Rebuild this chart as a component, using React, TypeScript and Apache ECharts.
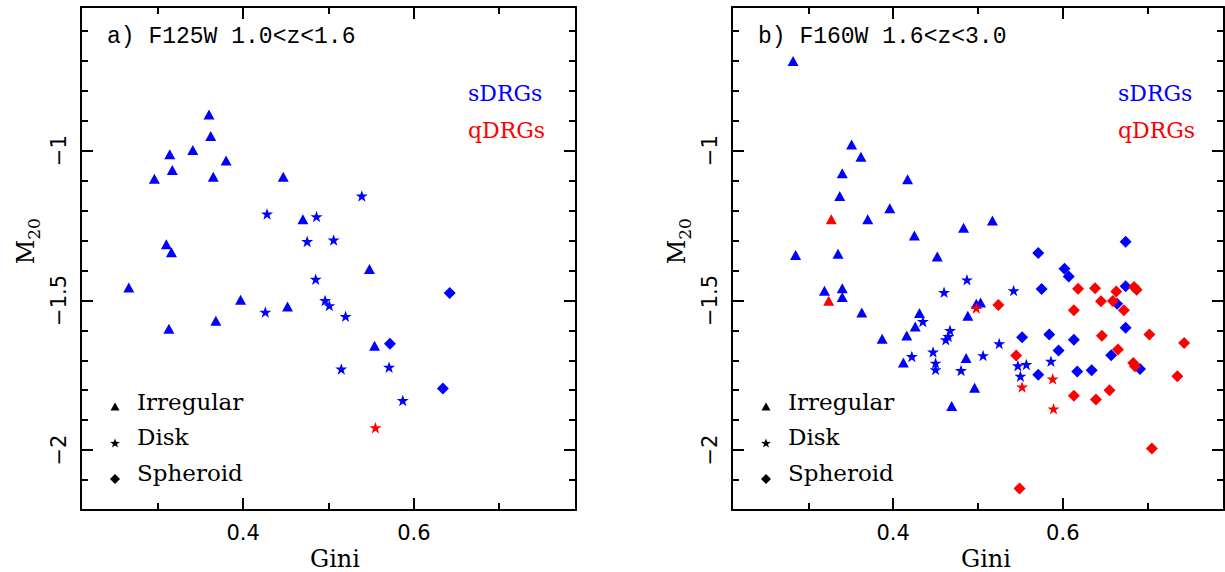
import React, { useEffect, useRef } from "react";
import * as echarts from "echarts";

// ---- axis ranges and ticks ----
const X_MIN = 0.21;
const X_MAX = 0.79;
const Y_MIN = -2.2;
const Y_MAX = -0.52;
const xMajor = [0.4, 0.6];
const xMinor = [0.3, 0.5, 0.7];
const yMajor = [-2, -1.5, -1];
const yMinor = [-2.1, -1.9, -1.8, -1.7, -1.6, -1.4, -1.3, -1.2, -1.1, -0.9, -0.8, -0.7, -0.6];

// ---- panel a) F125W 1.0<z<1.6 ----
const aBlueIrregular = [
  [0.360, -0.879], [0.362, -0.951], [0.341, -0.998], [0.314, -1.012], [0.380, -1.033],
  [0.317, -1.064], [0.296, -1.094], [0.365, -1.087], [0.447, -1.087], [0.310, -1.312],
  [0.316, -1.339], [0.266, -1.457], [0.313, -1.595], [0.368, -1.568], [0.397, -1.498],
  [0.452, -1.520], [0.470, -1.229], [0.548, -1.395], [0.554, -1.651],
];
const aBlueDisk = [
  [0.428, -1.211], [0.426, -1.539], [0.539, -1.151], [0.486, -1.220], [0.475, -1.303],
  [0.506, -1.298], [0.485, -1.429], [0.496, -1.500], [0.501, -1.517], [0.520, -1.553],
  [0.515, -1.729], [0.571, -1.723], [0.587, -1.834],
];
const aRedDisk = [[0.555, -1.925]];
const aBlueSpheroid = [[0.642, -1.475], [0.572, -1.645], [0.634, -1.794]];

// ---- panel b) F160W 1.6<z<3.0 ----
const bBlueIrregular = [
  [0.282, -0.700], [0.351, -0.979], [0.362, -1.020], [0.340, -1.075], [0.417, -1.095],
  [0.337, -1.151], [0.396, -1.192], [0.370, -1.229], [0.425, -1.283], [0.285, -1.348],
  [0.335, -1.344], [0.452, -1.353], [0.319, -1.468], [0.340, -1.459], [0.340, -1.489],
  [0.363, -1.540], [0.431, -1.542], [0.426, -1.587], [0.387, -1.628], [0.416, -1.617],
  [0.412, -1.707], [0.483, -1.257], [0.517, -1.233], [0.498, -1.511], [0.503, -1.507],
  [0.488, -1.551], [0.486, -1.692], [0.496, -1.792], [0.469, -1.853],
];
const bRedIrregular = [[0.327, -1.229], [0.324, -1.501]];
const bBlueDisk = [
  [0.435, -1.570], [0.422, -1.687], [0.447, -1.672], [0.450, -1.709], [0.450, -1.731],
  [0.487, -1.431], [0.460, -1.473], [0.542, -1.467], [0.467, -1.600], [0.465, -1.620],
  [0.462, -1.631], [0.525, -1.644], [0.506, -1.684], [0.480, -1.734], [0.547, -1.718],
  [0.557, -1.714], [0.586, -1.703], [0.550, -1.753],
];
const bRedDisk = [[0.498, -1.525], [0.588, -1.762], [0.552, -1.789], [0.589, -1.862]];
const bBlueSpheroid = [
  [0.571, -1.342], [0.674, -1.304], [0.602, -1.394], [0.607, -1.420], [0.575, -1.462],
  [0.674, -1.453], [0.664, -1.511], [0.674, -1.591], [0.552, -1.623], [0.584, -1.614],
  [0.613, -1.631], [0.595, -1.667], [0.657, -1.683], [0.691, -1.729], [0.617, -1.737],
  [0.634, -1.733], [0.571, -1.748],
];
const bRedSpheroid = [
  [0.618, -1.461], [0.638, -1.459], [0.663, -1.470], [0.684, -1.455], [0.687, -1.464],
  [0.645, -1.503], [0.659, -1.502], [0.672, -1.533], [0.613, -1.533], [0.524, -1.515],
  [0.646, -1.618], [0.702, -1.614], [0.743, -1.642], [0.665, -1.664], [0.545, -1.684],
  [0.683, -1.709], [0.685, -1.720], [0.735, -1.753], [0.613, -1.818], [0.639, -1.831],
  [0.655, -1.800], [0.705, -1.995], [0.549, -2.128],
];

const panelTitles = ["a) F125W 1.0<z<1.6", "b) F160W 1.6<z<3.0"];
const groupLabels = ["sDRGs", "qDRGs"];
const typeLabels = ["Irregular", "Disk", "Spheroid"];

const BLUE = "#0000ff";
const RED = "#ff0000";
const STAR =
  "path://M50,0 L61.8,34.5 L97.6,34.5 L68.7,55.9 L79.4,90.5 L50,69.1 L20.6,90.5 L31.3,55.9 L2.4,34.5 L38.2,34.5 Z";

function starPoints(cx: number, cy: number, r: number) {
  const pts: number[][] = [];
  for (let i = 0; i < 10; i++) {
    const rr = i % 2 === 0 ? r : r * 0.42;
    const a = -Math.PI / 2 + (i * Math.PI) / 5;
    pts.push([cx + rr * Math.cos(a), cy + rr * Math.sin(a)]);
  }
  return pts;
}

export default function App() {
  const ref = useRef<HTMLDivElement>(null);
  useEffect(() => {
    if (!ref.current) return;
    const chart = echarts.init(ref.current, undefined, { renderer: "svg" });

    const grids = [
      { left: 81, top: 7, width: 495, height: 503 },
      { left: 732, top: 7, width: 492, height: 503 },
    ];
    const lineStyle = { color: "#000", width: 2 };
    const tickFont = { fontSize: 21, fontFamily: "DejaVu Sans", color: "#000" };

    const xAxes: any[] = [];
    const yAxes: any[] = [];
    grids.forEach((_, g) => {
      const xb = {
        type: "value", gridIndex: g, min: X_MIN, max: X_MAX,
        splitLine: { show: false },
        axisLine: { show: true, onZero: false, lineStyle },
      };
      xAxes.push(
        { ...xb, position: "bottom",
          axisTick: { show: true, inside: true, length: 12, customValues: xMajor, lineStyle },
          axisLabel: { show: true, customValues: xMajor, margin: 12, ...tickFont,
            formatter: (v: number) => v.toFixed(1) } },
        { ...xb, position: "bottom", axisLine: { show: false },
          axisTick: { show: true, inside: true, length: 7, customValues: xMinor, lineStyle },
          axisLabel: { show: false } },
        { ...xb, position: "top",
          axisTick: { show: true, inside: true, length: 12, customValues: xMajor, lineStyle },
          axisLabel: { show: false } },
        { ...xb, position: "top", axisLine: { show: false },
          axisTick: { show: true, inside: true, length: 7, customValues: xMinor, lineStyle },
          axisLabel: { show: false } },
      );
      const yb = {
        type: "value", gridIndex: g, min: Y_MIN, max: Y_MAX,
        splitLine: { show: false },
        axisLine: { show: true, onZero: false, lineStyle },
      };
      yAxes.push(
        { ...yb, position: "left",
          axisTick: { show: true, inside: true, length: 12, customValues: yMajor, lineStyle },
          axisLabel: { show: true, customValues: yMajor, margin: 12, rotate: 90, ...tickFont,
            formatter: (v: number) => (v < 0 ? "\u2212" : "") + String(Math.abs(v)) } },
        { ...yb, position: "left", axisLine: { show: false },
          axisTick: { show: true, inside: true, length: 7, customValues: yMinor, lineStyle },
          axisLabel: { show: false } },
        { ...yb, position: "right",
          axisTick: { show: true, inside: true, length: 12, customValues: yMajor, lineStyle },
          axisLabel: { show: false } },
        { ...yb, position: "right", axisLine: { show: false },
          axisTick: { show: true, inside: true, length: 7, customValues: yMinor, lineStyle },
          axisLabel: { show: false } },
      );
    });

    const mk = (g: number, data: number[][], symbol: string, size: any, color: string) => ({
      type: "scatter",
      xAxisIndex: g * 4,
      yAxisIndex: g * 4,
      data,
      symbol,
      symbolSize: size,
      itemStyle: { color, opacity: 1 },
      emphasis: { disabled: true },
    });
    const TRI = [11, 10];
    const STS = [12, 11.5];
    const DIA = [12, 12];

    const series = [
      mk(0, aBlueIrregular, "triangle", TRI, BLUE),
      mk(0, aBlueDisk, STAR, STS, BLUE),
      mk(0, aRedDisk, STAR, STS, RED),
      mk(0, aBlueSpheroid, "diamond", DIA, BLUE),
      mk(1, bBlueIrregular, "triangle", TRI, BLUE),
      mk(1, bRedIrregular, "triangle", TRI, RED),
      mk(1, bBlueDisk, STAR, STS, BLUE),
      mk(1, bBlueSpheroid, "diamond", DIA, BLUE),
      mk(1, bRedSpheroid, "diamond", DIA, RED),
      mk(1, bRedDisk, STAR, STS, RED),
    ];

    const serif = '"DejaVu Serif", serif';
    const graphic: any[] = [];
    const offsets = [0, 651];
    offsets.forEach((dx, p) => {
      graphic.push(
        { type: "text", x: 107 + dx, y: 37,
          style: { text: panelTitles[p], font: '23px "Liberation Mono", monospace', fill: "#000", verticalAlign: "middle" } },
        { type: "text", x: 468 + dx - (p ? 1 : 0), y: 93,
          style: { text: groupLabels[0], font: `22px ${serif}`, fill: BLUE, verticalAlign: "middle" } },
        { type: "text", x: 468 + dx - (p ? 1 : 0), y: 130,
          style: { text: groupLabels[1], font: `22px ${serif}`, fill: RED, verticalAlign: "middle" } },
      );
      const ly = [402, 437, 473];
      typeLabels.forEach((t, i) => {
        graphic.push({ type: "text", x: 137 + dx, y: ly[i],
          style: { text: t, font: `23px ${serif}`, fill: "#000", verticalAlign: "middle" } });
      });
      const sx = 115 + dx;
      graphic.push(
        { type: "polygon", shape: { points: [[sx, 402.5], [sx + 4.5, 410.5], [sx - 4.5, 410.5]] }, style: { fill: "#000" } },
        { type: "polygon", shape: { points: starPoints(sx, 443.5, 5) }, style: { fill: "#000" } },
        { type: "polygon", shape: { points: [[sx, 474], [sx + 5, 479], [sx, 484], [sx - 5, 479]] }, style: { fill: "#000" } },
        { type: "text", x: 335 + dx, y: 559,
          style: { text: "Gini", font: `24px ${serif}`, fill: "#000", align: "center", verticalAlign: "middle" } },
        { type: "text", x: 26 + dx, y: 252, rotation: Math.PI / 2,
          style: { text: "M", font: `24px ${serif}`, fill: "#000", align: "center", verticalAlign: "middle" } },
        { type: "text", x: 34 + dx, y: 229, rotation: Math.PI / 2,
          style: { text: "20", font: `17px ${serif}`, fill: "#000", align: "center", verticalAlign: "middle" } },
      );
    });

    chart.setOption({
      animation: false,
      backgroundColor: "#fff",
      grid: grids,
      xAxis: xAxes,
      yAxis: yAxes,
      series,
      graphic,
    });
    return () => chart.dispose();
  }, []);
  return <div ref={ref} style={{ position: "fixed", left: 0, top: 0, width: 1225, height: 572 }} />;
}
